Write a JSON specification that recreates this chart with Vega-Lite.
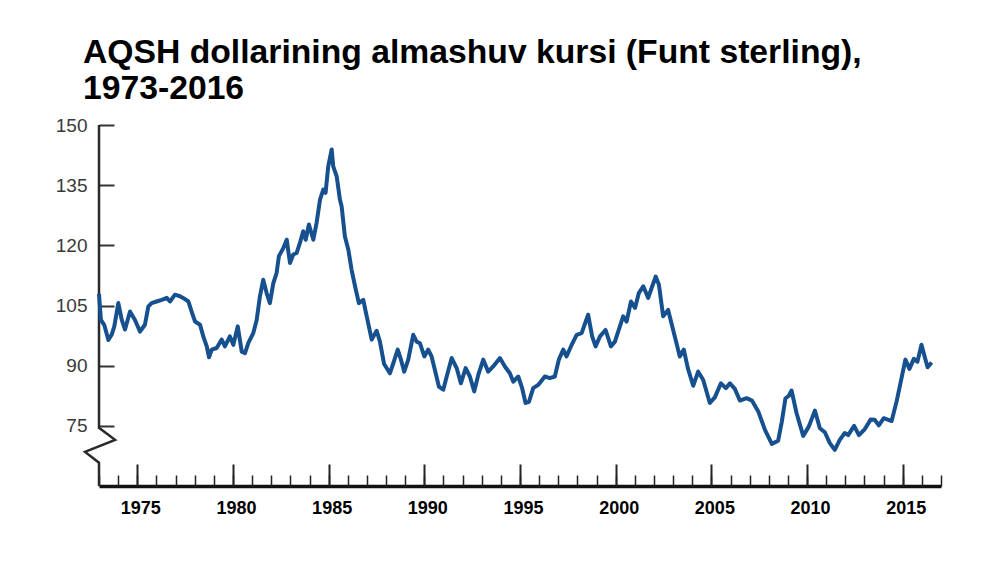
{
  "$schema": "https://vega.github.io/schema/vega-lite/v6.json",
  "width": 842,
  "height": 361,
  "autosize": "none",
  "padding": {"left": 99, "top": 125, "right": 59, "bottom": 76},
  "background": "white",
  "config": {"view": {"stroke": null}},
  "title": {
    "text": ["AQSH dollarining almashuv kursi (Funt sterling),", "1973-2016"],
    "anchor": "start",
    "frame": "group",
    "dx": -16,
    "font": "Liberation Sans",
    "fontSize": 33.7,
    "fontWeight": "bold",
    "color": "#000000",
    "lineHeight": 36,
    "offset": 10
  },
  "datasets": {
    "axisbreak": [
      {"year": 1973, "value": 150, "o": 1},
      {"year": 1973, "value": 74.5, "o": 2},
      {"year": 1973.84, "value": 71.5, "o": 3},
      {"year": 1972.27, "value": 68.5, "o": 4},
      {"year": 1973, "value": 65.8, "o": 5},
      {"year": 1973, "value": 60, "o": 6}
    ],
    "rate": [
      {"year": 1973.00, "value": 107.9},
      {"year": 1973.10, "value": 101.4},
      {"year": 1973.28, "value": 100.1},
      {"year": 1973.49, "value": 96.4},
      {"year": 1973.66, "value": 97.7},
      {"year": 1973.80, "value": 99.8},
      {"year": 1974.01, "value": 105.6},
      {"year": 1974.19, "value": 101.4},
      {"year": 1974.36, "value": 99.0},
      {"year": 1974.62, "value": 103.5},
      {"year": 1974.88, "value": 101.4},
      {"year": 1975.14, "value": 98.5},
      {"year": 1975.40, "value": 100.2},
      {"year": 1975.58, "value": 104.8},
      {"year": 1975.75, "value": 105.6},
      {"year": 1976.01, "value": 106.0},
      {"year": 1976.28, "value": 106.4},
      {"year": 1976.54, "value": 106.9},
      {"year": 1976.71, "value": 106.0},
      {"year": 1976.97, "value": 107.7},
      {"year": 1977.23, "value": 107.3},
      {"year": 1977.49, "value": 106.6},
      {"year": 1977.67, "value": 106.0},
      {"year": 1977.84, "value": 103.5},
      {"year": 1978.02, "value": 101.0},
      {"year": 1978.28, "value": 100.2},
      {"year": 1978.45, "value": 97.3},
      {"year": 1978.63, "value": 94.8},
      {"year": 1978.75, "value": 92.1},
      {"year": 1978.89, "value": 94.0},
      {"year": 1979.15, "value": 94.4},
      {"year": 1979.41, "value": 96.5},
      {"year": 1979.58, "value": 94.8},
      {"year": 1979.84, "value": 97.3},
      {"year": 1980.02, "value": 95.2},
      {"year": 1980.25, "value": 99.8},
      {"year": 1980.46, "value": 93.5},
      {"year": 1980.63, "value": 93.1},
      {"year": 1980.80, "value": 95.6},
      {"year": 1981.06, "value": 98.1},
      {"year": 1981.24, "value": 101.4},
      {"year": 1981.41, "value": 107.3},
      {"year": 1981.58, "value": 111.4},
      {"year": 1981.76, "value": 108.1},
      {"year": 1981.93, "value": 105.6},
      {"year": 1982.11, "value": 110.6},
      {"year": 1982.28, "value": 113.1},
      {"year": 1982.40, "value": 117.3},
      {"year": 1982.63, "value": 119.3},
      {"year": 1982.81, "value": 121.4},
      {"year": 1982.98, "value": 115.6},
      {"year": 1983.15, "value": 117.7},
      {"year": 1983.33, "value": 118.1},
      {"year": 1983.50, "value": 120.6},
      {"year": 1983.67, "value": 123.5},
      {"year": 1983.80, "value": 121.4},
      {"year": 1983.97, "value": 125.2},
      {"year": 1984.20, "value": 121.4},
      {"year": 1984.37, "value": 125.6},
      {"year": 1984.55, "value": 131.4},
      {"year": 1984.72, "value": 133.9},
      {"year": 1984.84, "value": 133.1},
      {"year": 1984.98, "value": 139.7},
      {"year": 1985.16, "value": 143.9},
      {"year": 1985.24, "value": 139.7},
      {"year": 1985.42, "value": 137.2},
      {"year": 1985.59, "value": 131.4},
      {"year": 1985.68, "value": 129.7},
      {"year": 1985.85, "value": 122.2},
      {"year": 1986.03, "value": 118.9},
      {"year": 1986.20, "value": 113.9},
      {"year": 1986.38, "value": 109.8},
      {"year": 1986.58, "value": 105.6},
      {"year": 1986.81, "value": 106.4},
      {"year": 1986.99, "value": 102.3},
      {"year": 1987.25, "value": 96.5},
      {"year": 1987.51, "value": 98.7},
      {"year": 1987.68, "value": 96.0},
      {"year": 1987.90, "value": 90.4},
      {"year": 1988.20, "value": 88.1},
      {"year": 1988.38, "value": 90.6},
      {"year": 1988.61, "value": 94.0},
      {"year": 1988.78, "value": 91.5},
      {"year": 1988.95, "value": 88.5},
      {"year": 1989.16, "value": 91.5},
      {"year": 1989.42, "value": 97.7},
      {"year": 1989.60, "value": 96.0},
      {"year": 1989.77, "value": 95.6},
      {"year": 1990.00, "value": 92.3},
      {"year": 1990.20, "value": 94.0},
      {"year": 1990.38, "value": 92.3},
      {"year": 1990.55, "value": 89.0},
      {"year": 1990.76, "value": 84.8},
      {"year": 1990.99, "value": 84.0},
      {"year": 1991.17, "value": 87.3},
      {"year": 1991.43, "value": 91.9},
      {"year": 1991.69, "value": 89.4},
      {"year": 1991.91, "value": 85.6},
      {"year": 1992.16, "value": 89.4},
      {"year": 1992.38, "value": 87.3},
      {"year": 1992.61, "value": 83.6},
      {"year": 1992.82, "value": 87.7},
      {"year": 1993.08, "value": 91.5},
      {"year": 1993.34, "value": 88.5},
      {"year": 1993.60, "value": 89.8},
      {"year": 1993.95, "value": 91.9},
      {"year": 1994.21, "value": 89.8},
      {"year": 1994.47, "value": 88.1},
      {"year": 1994.65, "value": 86.0},
      {"year": 1994.91, "value": 87.3},
      {"year": 1995.10, "value": 84.6},
      {"year": 1995.29, "value": 80.7},
      {"year": 1995.47, "value": 81.0},
      {"year": 1995.69, "value": 84.4},
      {"year": 1995.95, "value": 85.2},
      {"year": 1996.30, "value": 87.3},
      {"year": 1996.56, "value": 86.9},
      {"year": 1996.82, "value": 87.3},
      {"year": 1997.03, "value": 91.5},
      {"year": 1997.26, "value": 94.0},
      {"year": 1997.43, "value": 92.3},
      {"year": 1997.70, "value": 95.2},
      {"year": 1997.96, "value": 97.7},
      {"year": 1998.22, "value": 98.1},
      {"year": 1998.56, "value": 102.7},
      {"year": 1998.77, "value": 97.3},
      {"year": 1998.95, "value": 94.8},
      {"year": 1999.18, "value": 97.3},
      {"year": 1999.47, "value": 98.9},
      {"year": 1999.75, "value": 94.8},
      {"year": 1999.96, "value": 96.0},
      {"year": 2000.22, "value": 99.8},
      {"year": 2000.39, "value": 102.3},
      {"year": 2000.57, "value": 101.0},
      {"year": 2000.80, "value": 106.0},
      {"year": 2001.01, "value": 104.4},
      {"year": 2001.21, "value": 108.1},
      {"year": 2001.44, "value": 109.8},
      {"year": 2001.70, "value": 106.9},
      {"year": 2001.91, "value": 109.8},
      {"year": 2002.09, "value": 112.2},
      {"year": 2002.26, "value": 110.2},
      {"year": 2002.48, "value": 102.3},
      {"year": 2002.74, "value": 103.9},
      {"year": 2003.09, "value": 97.3},
      {"year": 2003.35, "value": 92.3},
      {"year": 2003.56, "value": 94.0},
      {"year": 2003.77, "value": 89.4},
      {"year": 2004.05, "value": 85.0},
      {"year": 2004.31, "value": 88.5},
      {"year": 2004.57, "value": 86.5},
      {"year": 2004.92, "value": 80.7},
      {"year": 2005.18, "value": 82.1},
      {"year": 2005.50, "value": 85.6},
      {"year": 2005.76, "value": 84.4},
      {"year": 2005.97, "value": 85.6},
      {"year": 2006.23, "value": 84.2},
      {"year": 2006.49, "value": 81.3},
      {"year": 2006.84, "value": 81.9},
      {"year": 2007.12, "value": 81.3},
      {"year": 2007.45, "value": 78.6},
      {"year": 2007.80, "value": 74.0},
      {"year": 2008.16, "value": 70.5},
      {"year": 2008.49, "value": 71.3},
      {"year": 2008.68, "value": 76.0},
      {"year": 2008.87, "value": 81.8},
      {"year": 2009.05, "value": 82.5},
      {"year": 2009.19, "value": 83.8},
      {"year": 2009.45, "value": 78.2},
      {"year": 2009.80, "value": 72.5},
      {"year": 2010.09, "value": 74.8},
      {"year": 2010.41, "value": 78.8},
      {"year": 2010.67, "value": 74.4},
      {"year": 2010.93, "value": 73.4},
      {"year": 2011.19, "value": 70.7},
      {"year": 2011.45, "value": 69.0},
      {"year": 2011.71, "value": 71.5},
      {"year": 2011.97, "value": 73.2},
      {"year": 2012.15, "value": 72.7},
      {"year": 2012.46, "value": 75.0},
      {"year": 2012.71, "value": 72.7},
      {"year": 2013.02, "value": 74.2},
      {"year": 2013.33, "value": 76.6},
      {"year": 2013.54, "value": 76.5},
      {"year": 2013.75, "value": 75.1},
      {"year": 2014.01, "value": 76.9},
      {"year": 2014.42, "value": 76.2},
      {"year": 2014.68, "value": 81.1},
      {"year": 2014.88, "value": 85.6},
      {"year": 2015.14, "value": 91.5},
      {"year": 2015.35, "value": 89.2},
      {"year": 2015.58, "value": 91.7},
      {"year": 2015.77, "value": 91.0},
      {"year": 2015.98, "value": 95.2},
      {"year": 2016.19, "value": 91.5},
      {"year": 2016.30, "value": 89.6},
      {"year": 2016.51, "value": 90.8}
    ]
  },
  "resolve": {"axis": {"x": "independent"}},
  "layer": [
    {
      "data": {"name": "axisbreak"},
      "mark": {"type": "line", "color": "#2a2a2a", "strokeWidth": 2.5, "strokeJoin": "miter"},
      "encoding": {
        "x": {
          "field": "year",
          "type": "quantitative",
          "scale": {"domain": [1973, 2017], "nice": false, "zero": false},
          "axis": {
            "orient": "bottom",
            "title": null,
            "values": [1975, 1980, 1985, 1990, 1995, 2000, 2005, 2010, 2015],
            "format": "d",
            "grid": false,
            "domain": true,
            "domainColor": "#111111",
            "domainWidth": 3.5,
            "tickSize": -22,
            "tickWidth": 2,
            "tickColor": "#222222",
            "labelFont": "Liberation Sans",
            "labelFontSize": 18,
            "labelFontWeight": "bold",
            "labelColor": "#000000",
            "labelPadding": 35,
            "labelOffset": 3
          }
        },
        "y": {
          "field": "value",
          "type": "quantitative",
          "scale": {"domain": [60, 150], "nice": false, "zero": false},
          "axis": {
            "title": null,
            "values": [75, 90, 105, 120, 135, 150],
            "grid": false,
            "domain": false,
            "tickSize": -15,
            "tickWidth": 2,
            "tickColor": "#333333",
            "labelFont": "Liberation Sans",
            "labelFontSize": 19,
            "labelColor": "#3a3a3a",
            "labelPadding": 27
          }
        },
        "order": {"field": "o", "type": "quantitative"}
      }
    },
    {
      "data": {"name": "rate"},
      "mark": {"type": "line", "color": "#17508f", "strokeWidth": 4, "strokeJoin": "round"},
      "encoding": {
        "x": {
          "field": "year",
          "type": "quantitative",
          "axis": {
            "orient": "bottom",
            "title": null,
            "values": [1973, 1974, 1975, 1976, 1977, 1978, 1979, 1980, 1981, 1982, 1983, 1984, 1985, 1986, 1987, 1988, 1989, 1990, 1991, 1992, 1993, 1994, 1995, 1996, 1997, 1998, 1999, 2000, 2001, 2002, 2003, 2004, 2005, 2006, 2007, 2008, 2009, 2010, 2011, 2012, 2013, 2014, 2015, 2016, 2017],
            "grid": false,
            "domain": false,
            "labels": false,
            "tickSize": -11,
            "tickWidth": 1.5,
            "tickColor": "#222222"
          }
        },
        "y": {"field": "value", "type": "quantitative"}
      }
    }
  ]
}
